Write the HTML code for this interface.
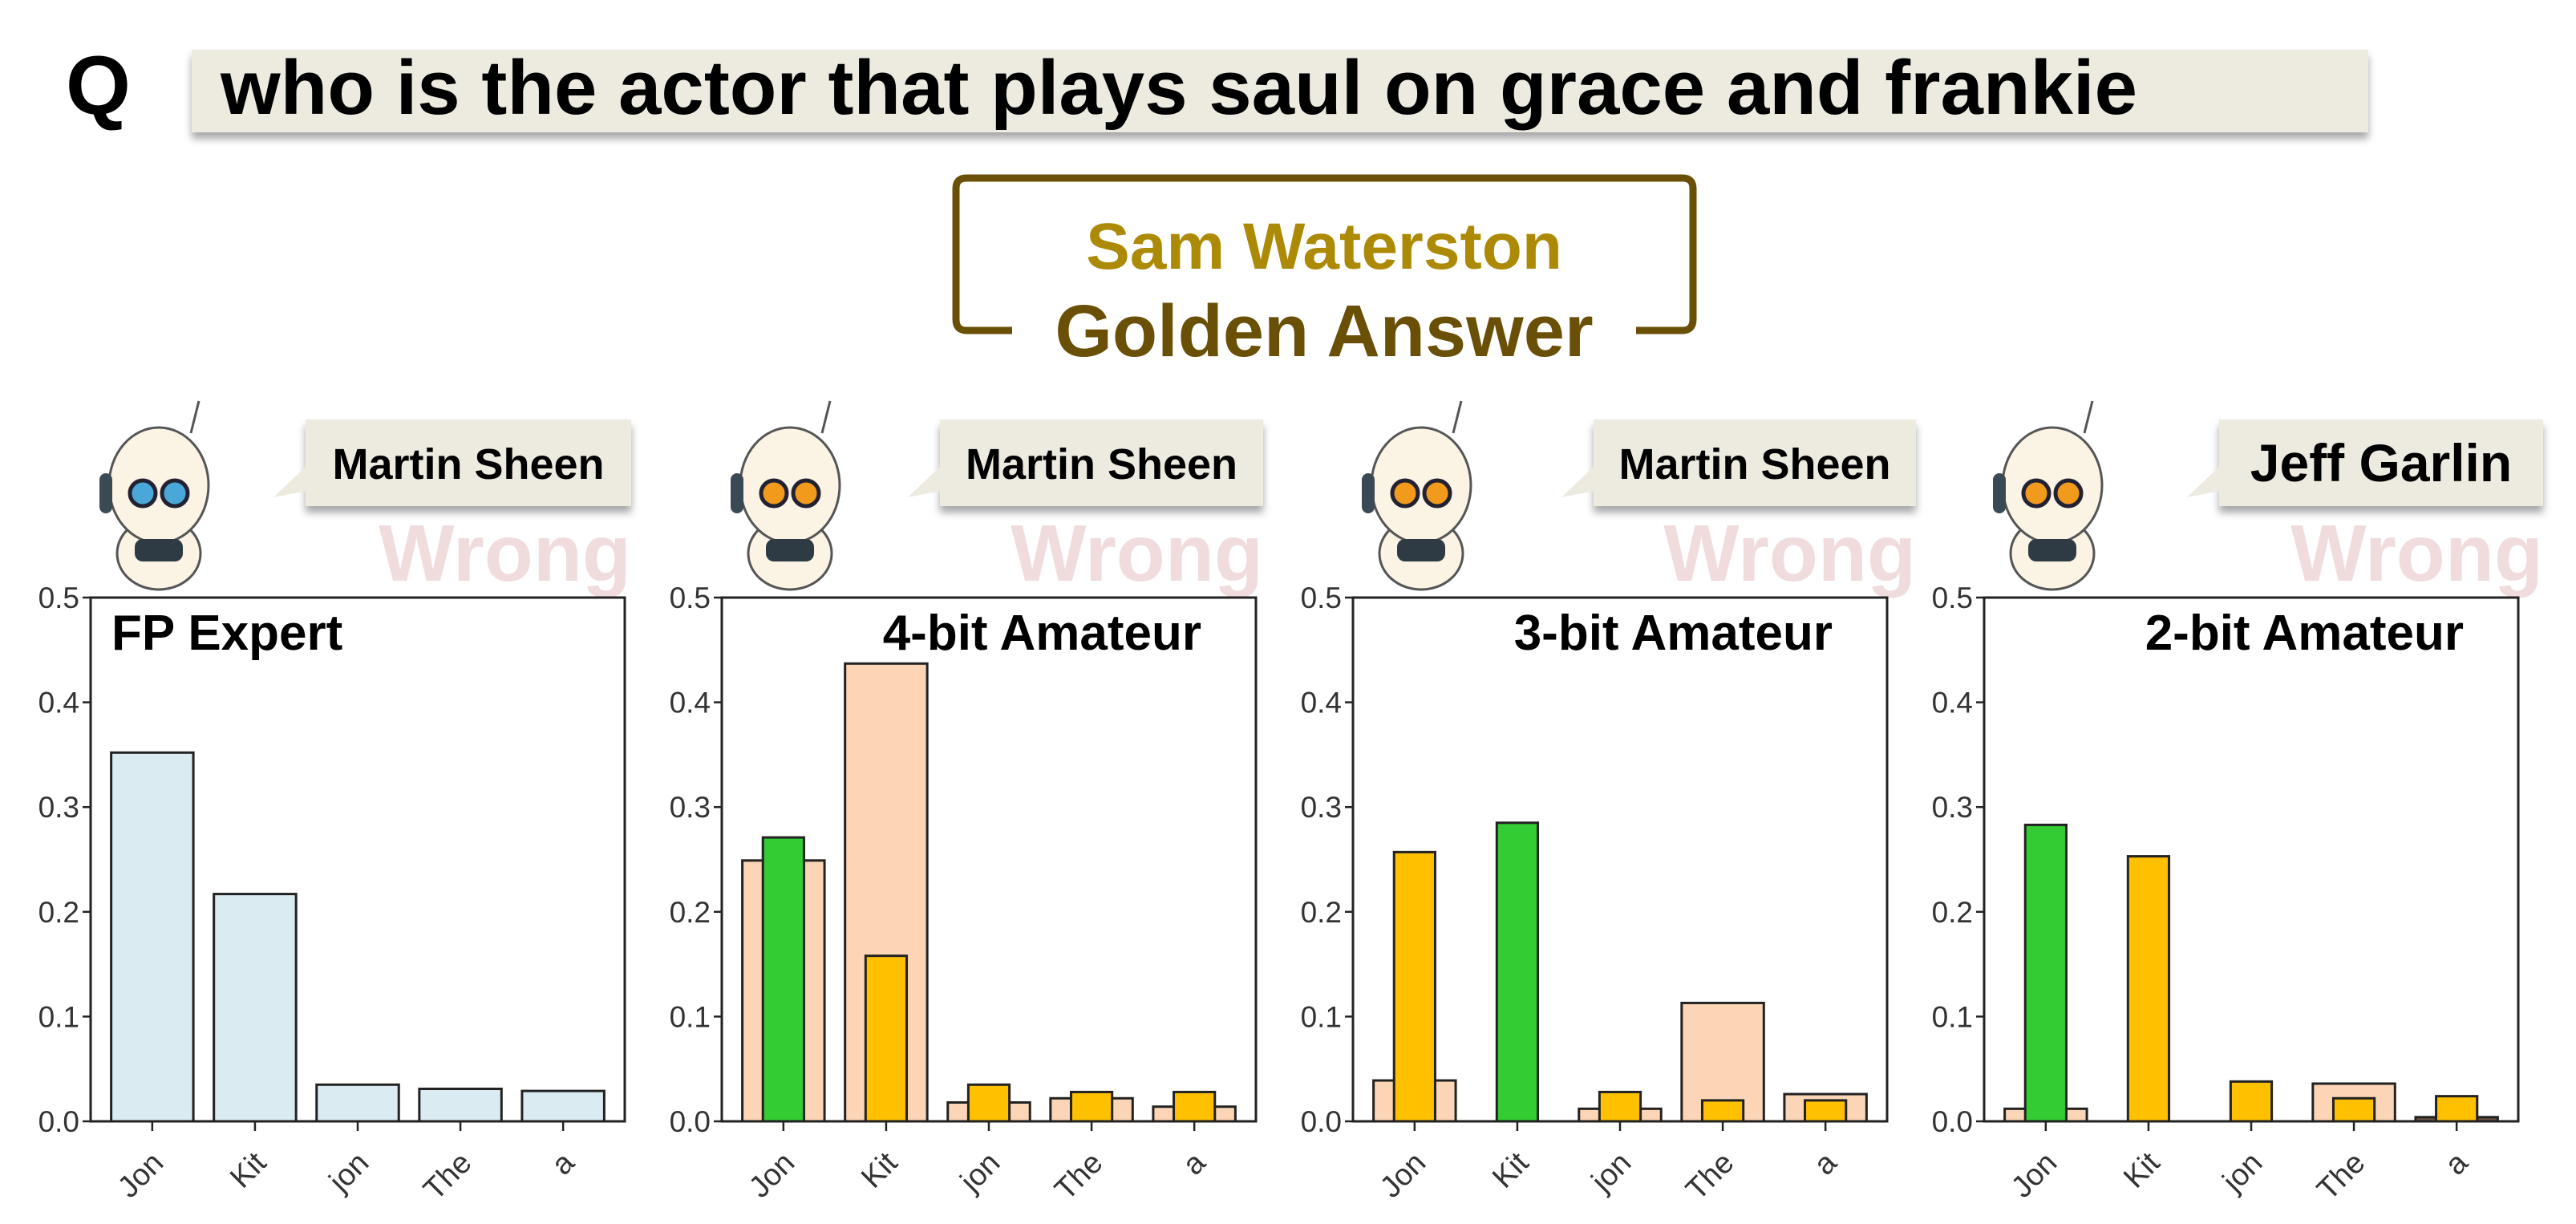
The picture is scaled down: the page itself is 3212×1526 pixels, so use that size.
<!DOCTYPE html>
<html><head><meta charset="utf-8"><style>
html,body{margin:0;padding:0;background:#fff;}
svg{display:block;font-family:"Liberation Sans",sans-serif;}
</style></head><body>
<svg id="root" width="3212" height="1526" viewBox="0 0 3212 1526" xmlns="http://www.w3.org/2000/svg">
<defs>
<filter id="sh" x="-5%" y="-20%" width="110%" height="150%"><feDropShadow dx="0" dy="8" stdDeviation="5" flood-color="#000" flood-opacity="0.35"/></filter>
</defs>
<text x="82" y="142" font-size="104" font-weight="bold">Q</text>
<rect x="239" y="62" width="2714" height="103" fill="#edebe0" filter="url(#sh)"/>
<text x="275" y="142" font-size="96" font-weight="bold">who is the actor that plays saul on grace and frankie</text>
<path d="M1262 412 H1205 Q1192 412 1192 398 V235 Q1192 222 1205 222 H2098 Q2111 222 2111 235 V398 Q2111 412 2098 412 H2040" fill="none" stroke="#6a4f06" stroke-width="9"/>
<text x="1651" y="335" font-size="82" font-weight="bold" fill="#ad8a06" text-anchor="middle">Sam Waterston</text>
<text x="1651" y="444" font-size="92" font-weight="bold" fill="#6a4f06" text-anchor="middle">Golden Answer</text>
<g id="panels"></g>
</svg>
<script>
const categories = ["Jon","Kit","jon","The","a"];
const fpValues = [0.352,0.217,0.035,0.031,0.029];
const bit4Wide = [0.249,0.437,0.018,0.022,0.014];
const bit4Narrow = [0.271,0.158,0.035,0.028,0.028];
const bit3Wide = [0.039,0.0,0.012,0.113,0.026];
const bit3Narrow = [0.257,0.285,0.028,0.020,0.020];
const bit2Wide = [0.012,0.0,0.0,0.036,0.004];
const bit2Narrow = [0.283,0.253,0.038,0.022,0.024];
const yTicks = [0,0.1,0.2,0.3,0.4,0.5];
const tickLabels = ["0.0","0.1","0.2","0.3","0.4","0.5"];
const panelTitles = ["FP Expert","4-bit Amateur","3-bit Amateur","2-bit Amateur"];
const answers = ["Martin Sheen","Martin Sheen","Martin Sheen","Jeff Garlin"];
const greenIndex = [-1,0,1,0];

(function(){
const NS="http://www.w3.org/2000/svg";
const g=document.getElementById('panels');
function mk(tag,attrs,parent){const e=document.createElementNS(NS,tag);for(const k in attrs)e.setAttribute(k,attrs[k]);(parent||g).appendChild(e);return e;}
const lefts=[113,900,1687,2474], W=666, axTop=745, axBot=1398;
const wideSets=[fpValues,bit4Wide,bit3Wide,bit2Wide];
const narrowSets=[null,bit4Narrow,bit3Narrow,bit2Narrow];
const bubbleX=[381,1172,1987,2767], bubbleR=[787,1575,2389,3171];

for(let p=0;p<4;p++){
  const L=lefts[p];
  const unit=W/5.2;
  const xs=i=>L+(i+0.6)*unit;
  const ys=v=>axBot-(v/0.5)*(axBot-axTop);
  const rb=mk('g',{});
  
  
  const cx=L+85;
  mk('ellipse',{cx:cx,cy:690,rx:52,ry:45,fill:'#fbf3e3',stroke:'#555','stroke-width':3},rb);
  mk('line',{x1:cx+40,y1:540,x2:cx+50,y2:500,stroke:'#555','stroke-width':3},rb);
  mk('ellipse',{cx:cx,cy:605,rx:62,ry:72,fill:'#fbf3e3',stroke:'#555','stroke-width':3},rb);
  mk('circle',{cx:cx-20,cy:615,r:16,fill:p==0?'#4aa8d8':'#f29a1c',stroke:'#223','stroke-width':5},rb);
  mk('circle',{cx:cx+20,cy:615,r:16,fill:p==0?'#4aa8d8':'#f29a1c',stroke:'#223','stroke-width':5},rb);
  mk('rect',{x:cx-74,y:590,width:16,height:50,rx:8,fill:'#3a4a55'},rb);
  mk('rect',{x:cx-30,y:672,width:60,height:28,rx:10,fill:'#2e3b44'},rb);
  const bw=bubbleR[p]-bubbleX[p];
  const bb=mk('rect',{x:bubbleX[p],y:523,width:bw,height:108,fill:'#edebe0',filter:'url(#sh)'});
  
  
  mk('path',{d:`M${bubbleX[p]+2} 580 L${bubbleX[p]-40} 620 L${bubbleX[p]+2} 612 Z`,fill:'#edebe0'});
  const at=mk('text',{x:bubbleX[p]+bw/2,y:p==3?600:597,'font-size':p==3?66:54,'font-weight':'bold','text-anchor':'middle'});
  at.textContent=answers[p];
  
  
  const wr=mk('text',{x:bubbleR[p],y:724,'font-size':100,'font-weight':'bold',fill:'#f0dcdc','text-anchor':'end'});
  wr.textContent='Wrong';
  
  
  const ax=mk('rect',{x:L,y:axTop,width:W,height:axBot-axTop,fill:'#fff',stroke:'#222','stroke-width':3});
  
  
  yTicks.forEach((t,i)=>{
    mk('line',{x1:L-10,x2:L,y1:ys(t),y2:ys(t),stroke:'#222','stroke-width':2.5});
    const tl=mk('text',{x:L-14,y:ys(t)+13,'font-size':37,fill:'#333','text-anchor':'end'});
    tl.textContent=tickLabels[i];
    
    
  });
  const wide=wideSets[p], nar=narrowSets[p];
  categories.forEach((c,i)=>{
    const x=xs(i);
    const v=wide[i];
    if(v>0){
      const r=mk('rect',{x:x-0.4*unit,y:ys(v),width:0.8*unit,height:axBot-ys(v),fill:p==0?'#daecf2':(p==3&&i==4?'#6b5040':'#fbd5b5'),stroke:'#222','stroke-width':3});
      
      
    }
    if(nar){
      const n=nar[i];
      const r=mk('rect',{x:x-0.2*unit,y:ys(n),width:0.4*unit,height:axBot-ys(n),fill:greenIndex[p]==i?'#33cc33':'#ffc000',stroke:'#222','stroke-width':3});
      
      
    }
    mk('line',{x1:x,x2:x,y1:axBot,y2:axBot+12,stroke:'#222','stroke-width':2.5});
    const xl=mk('text',{x:x+16,y:axBot+54,'font-size':38,fill:'#333','text-anchor':'end',transform:`rotate(-45 ${x+16} ${axBot+54})`});
    xl.textContent=c;
    
    
  });
  const tt=mk('text',{x:p==0?L+26:L+W-68,y:axTop+65,'font-size':62,'font-weight':'bold','text-anchor':p==0?'start':'end'});
  tt.textContent=panelTitles[p];
  
  
}
})();
</script>
</body></html>
